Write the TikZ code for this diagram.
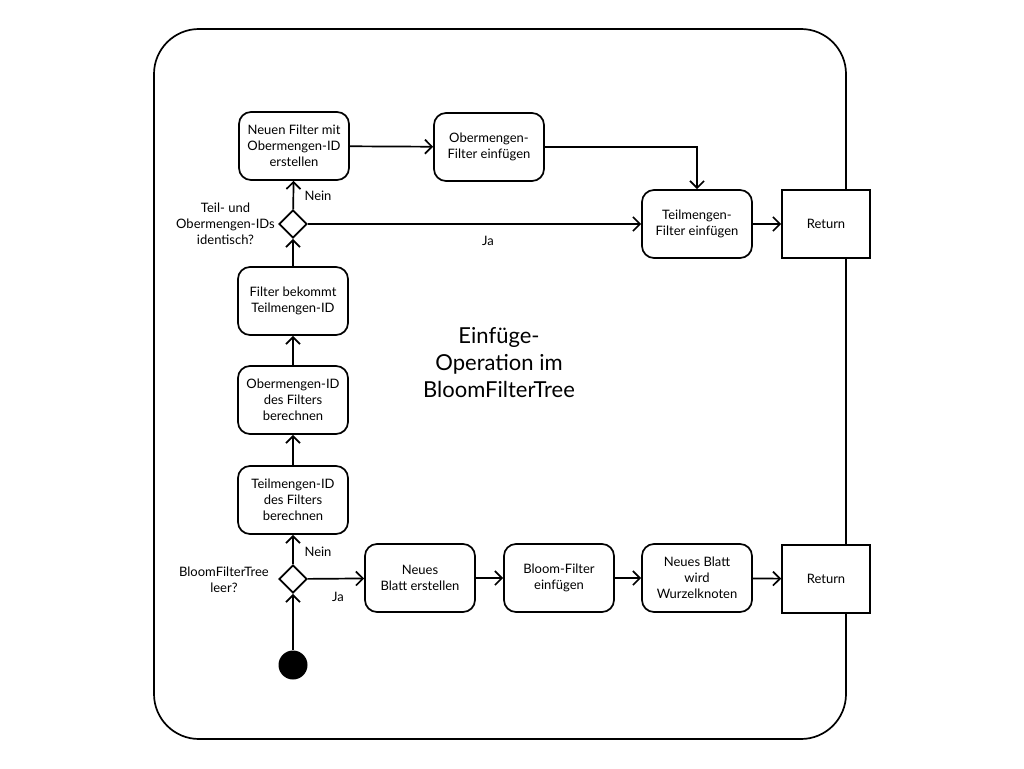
\documentclass[tikz,border=0pt]{standalone}
\usepackage{fontspec}
\setmainfont{Lato}
\usetikzlibrary{arrows.meta,shapes.geometric}
\begin{document}
\begin{tikzpicture}[x=1pt,y=-1pt,
  line width=1.7pt,
  txt/.style={font=\fontsize{13}{16}\selectfont},
  act/.style={draw,rounded corners=12pt,align=center,minimum width=110pt,minimum height=68pt,inner sep=2pt,txt,fill=white},
  retbox/.style={draw,minimum width=88pt,minimum height=68pt,txt,fill=white},
  dec/.style={draw,diamond,minimum width=28pt,minimum height=28pt,inner sep=0pt,fill=white},
  lbl/.style={txt,align=center},
  arr/.style={-{Straight Barb[length=7pt,width=14pt]}}]
\useasboundingbox (0,0) rectangle (1024,768);
\draw[rounded corners=45pt] (154,29) rectangle (846,739);
\node[act] (n1) at (294,146) {Neuen Filter mit\\Obermengen-ID\\erstellen};
\node[act] (n2) at (489,147) {Obermengen-\\Filter einfügen};
\node[act] (n3) at (697,224) {Teilmengen-\\Filter einfügen};
\node[retbox] (r1) at (826,224) {Return};
\node[dec] (d1) at (293,224) {};
\node[act] (n4) at (293,301) {Filter bekommt\\Teilmengen-ID};
\node[act] (n5) at (293,400) {Obermengen-ID\\des Filters\\berechnen};
\node[act] (n6) at (293,500) {Teilmengen-ID\\des Filters\\berechnen};
\node[dec] (d2) at (293,579) {};
\node[circle,fill=black,minimum size=29pt,inner sep=0pt] (s) at (293,665) {};
\node[act] (n7) at (420,578) {Neues\\Blatt erstellen};
\node[act] (n8) at (559,578) {Bloom-Filter\\einfügen};
\node[act] (n9) at (697,578) {Neues Blatt\\wird\\Wurzelknoten};
\node[retbox] (r2) at (826,579) {Return};
\coordinate (c1) at (697,147);
\node[align=center,font=\fontsize{22}{27}\selectfont] (t) at (499,363) {Einfüge-\\Operation im\\BloomFilterTree};
\node[lbl,anchor=east] (l1) at (279,224) {Teil- und\\Obermengen-IDs\\identisch?};
\node[lbl,anchor=east] (l2) at (273,580) {BloomFilterTree\\leer?};
\node[lbl] (nein1) at (318,196) {Nein};
\node[lbl] (ja1) at (488,241) {Ja};
\node[lbl] (nein2) at (318,552) {Nein};
\node[lbl] (ja2) at (338,597) {Ja};
\draw[arr] (s) -- (d2);
\draw[arr] (d2) -- (n6);
\draw[arr] (d2) -- (n7);
\draw[arr] (n7) -- (n8);
\draw[arr] (n8) -- (n9);
\draw[arr] (n9) -- (r2);
\draw[arr] (n6) -- (n5);
\draw[arr] (n5) -- (n4);
\draw[arr] (n4) -- (d1);
\draw[arr] (d1) -- (n1);
\draw[arr] (d1) -- (n3);
\draw[arr] (n1) -- (n2);
\draw[arr] (n2.east) -- (c1) -- (n3.north);
\draw[arr] (n3) -- (r1);
\end{tikzpicture}
\end{document}
